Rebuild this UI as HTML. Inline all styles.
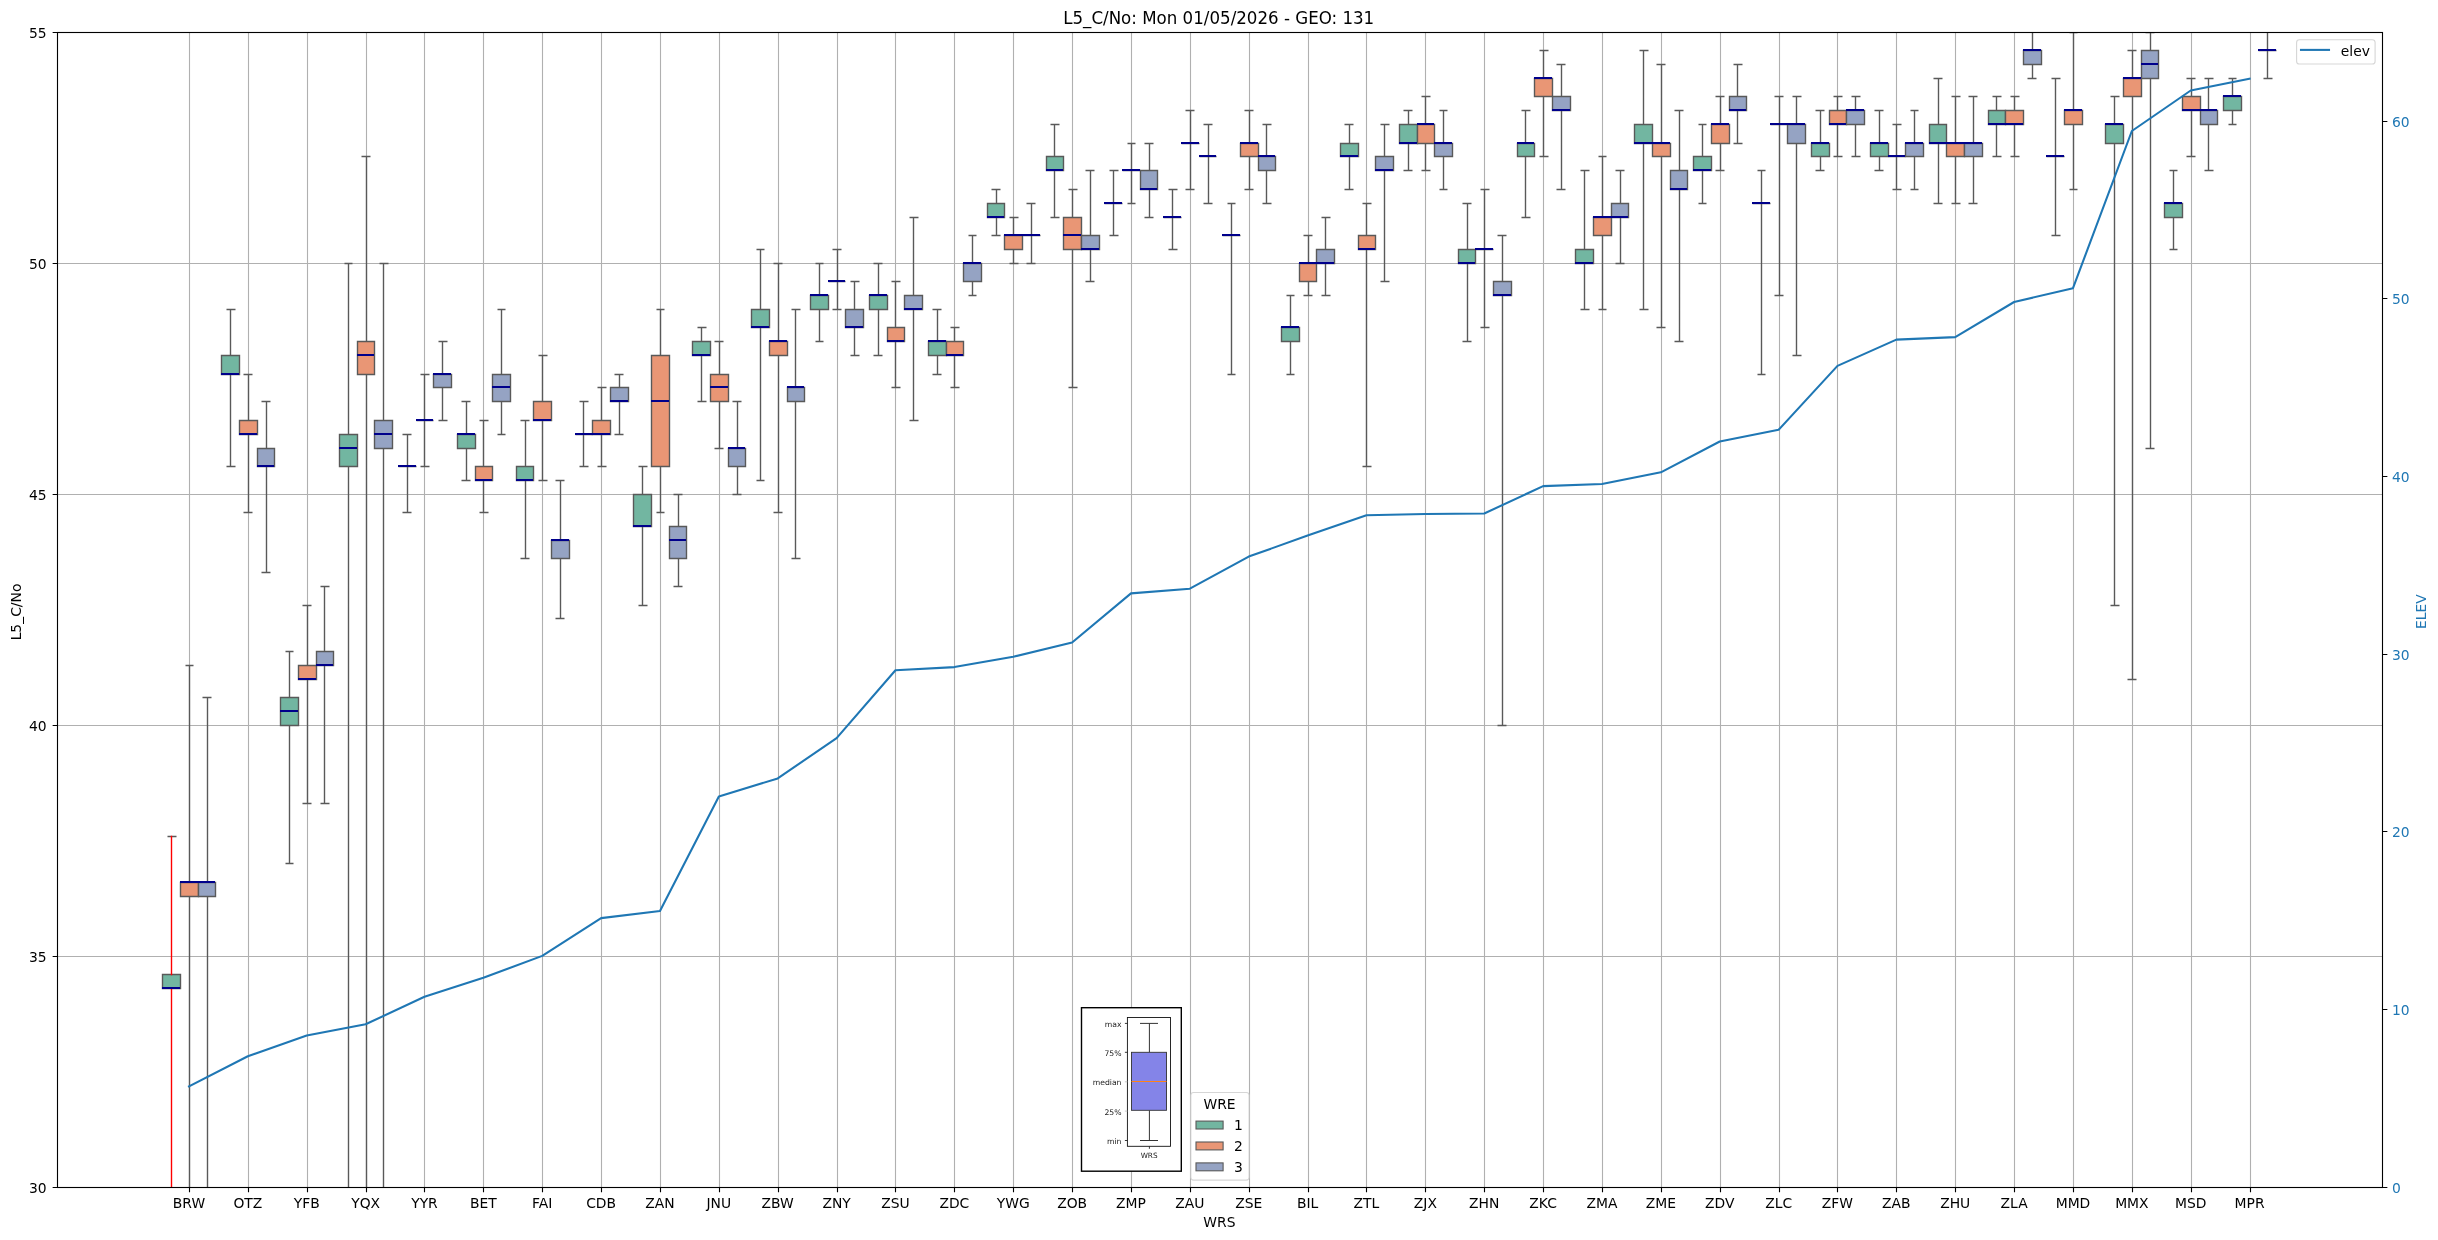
<!DOCTYPE html>
<html><head><meta charset="utf-8"><title>L5_C/No</title>
<style>html,body{margin:0;padding:0;background:#fff;overflow:hidden}svg{display:block;will-change:transform}text{font-family:"DejaVu Sans","Liberation Sans",sans-serif}</style></head><body>
<svg width="2438" height="1240" viewBox="0 0 2438 1240">
<defs><clipPath id="ax"><rect x="57" y="32" width="2325" height="1155"/></clipPath></defs>
<rect width="2438" height="1240" fill="#fff"/>
<path d="M189.5 32.5V1187.5M248.5 32.5V1187.5M307.5 32.5V1187.5M366.5 32.5V1187.5M424.5 32.5V1187.5M483.5 32.5V1187.5M542.5 32.5V1187.5M601.5 32.5V1187.5M660.5 32.5V1187.5M719.5 32.5V1187.5M778.5 32.5V1187.5M837.5 32.5V1187.5M895.5 32.5V1187.5M954.5 32.5V1187.5M1013.5 32.5V1187.5M1072.5 32.5V1187.5M1131.5 32.5V1187.5M1190.5 32.5V1187.5M1249.5 32.5V1187.5M1308.5 32.5V1187.5M1366.5 32.5V1187.5M1425.5 32.5V1187.5M1484.5 32.5V1187.5M1543.5 32.5V1187.5M1602.5 32.5V1187.5M1661.5 32.5V1187.5M1720.5 32.5V1187.5M1779.5 32.5V1187.5M1837.5 32.5V1187.5M1896.5 32.5V1187.5M1955.5 32.5V1187.5M2014.5 32.5V1187.5M2073.5 32.5V1187.5M2132.5 32.5V1187.5M2191.5 32.5V1187.5M2250.5 32.5V1187.5M57.5 956.5H2382.5M57.5 725.5H2382.5M57.5 494.5H2382.5M57.5 263.5H2382.5" stroke="#b0b0b0" stroke-width="1.11" fill="none"/>
<g clip-path="url(#ax)">
<path d="M162.5 974.5H180.5V988.5H162.5Z" fill="#72b6a1" stroke="#595959" stroke-width="1.39" stroke-linejoin="miter"/>
<path d="M180.5 882.5H198.5V896.5H180.5Z" fill="#e99675" stroke="#595959" stroke-width="1.39" stroke-linejoin="miter"/>
<path d="M198.5 882.5H215.5V896.5H198.5Z" fill="#95a3c3" stroke="#595959" stroke-width="1.39" stroke-linejoin="miter"/>
<path d="M221.5 355.5H239.5V374.5H221.5Z" fill="#72b6a1" stroke="#595959" stroke-width="1.39" stroke-linejoin="miter"/>
<path d="M239.5 420.5H257.5V434.5H239.5Z" fill="#e99675" stroke="#595959" stroke-width="1.39" stroke-linejoin="miter"/>
<path d="M257.5 448.5H274.5V466.5H257.5Z" fill="#95a3c3" stroke="#595959" stroke-width="1.39" stroke-linejoin="miter"/>
<path d="M280.5 697.5H298.5V725.5H280.5Z" fill="#72b6a1" stroke="#595959" stroke-width="1.39" stroke-linejoin="miter"/>
<path d="M298.5 665.5H316.5V679.5H298.5Z" fill="#e99675" stroke="#595959" stroke-width="1.39" stroke-linejoin="miter"/>
<path d="M316.5 651.5H333.5V665.5H316.5Z" fill="#95a3c3" stroke="#595959" stroke-width="1.39" stroke-linejoin="miter"/>
<path d="M339.5 434.5H357.5V466.5H339.5Z" fill="#72b6a1" stroke="#595959" stroke-width="1.39" stroke-linejoin="miter"/>
<path d="M357.5 341.5H374.5V374.5H357.5Z" fill="#e99675" stroke="#595959" stroke-width="1.39" stroke-linejoin="miter"/>
<path d="M374.5 420.5H392.5V448.5H374.5Z" fill="#95a3c3" stroke="#595959" stroke-width="1.39" stroke-linejoin="miter"/>
<path d="M398.5 466.5H416.5V466.5H398.5Z" fill="#72b6a1" stroke="#595959" stroke-width="1.39" stroke-linejoin="miter"/>
<path d="M416.5 420.5H433.5V420.5H416.5Z" fill="#e99675" stroke="#595959" stroke-width="1.39" stroke-linejoin="miter"/>
<path d="M433.5 374.5H451.5V387.5H433.5Z" fill="#95a3c3" stroke="#595959" stroke-width="1.39" stroke-linejoin="miter"/>
<path d="M457.5 434.5H475.5V448.5H457.5Z" fill="#72b6a1" stroke="#595959" stroke-width="1.39" stroke-linejoin="miter"/>
<path d="M475.5 466.5H492.5V480.5H475.5Z" fill="#e99675" stroke="#595959" stroke-width="1.39" stroke-linejoin="miter"/>
<path d="M492.5 374.5H510.5V401.5H492.5Z" fill="#95a3c3" stroke="#595959" stroke-width="1.39" stroke-linejoin="miter"/>
<path d="M516.5 466.5H533.5V480.5H516.5Z" fill="#72b6a1" stroke="#595959" stroke-width="1.39" stroke-linejoin="miter"/>
<path d="M533.5 401.5H551.5V420.5H533.5Z" fill="#e99675" stroke="#595959" stroke-width="1.39" stroke-linejoin="miter"/>
<path d="M551.5 540.5H569.5V558.5H551.5Z" fill="#95a3c3" stroke="#595959" stroke-width="1.39" stroke-linejoin="miter"/>
<path d="M575.5 434.5H592.5V434.5H575.5Z" fill="#72b6a1" stroke="#595959" stroke-width="1.39" stroke-linejoin="miter"/>
<path d="M592.5 420.5H610.5V434.5H592.5Z" fill="#e99675" stroke="#595959" stroke-width="1.39" stroke-linejoin="miter"/>
<path d="M610.5 387.5H628.5V401.5H610.5Z" fill="#95a3c3" stroke="#595959" stroke-width="1.39" stroke-linejoin="miter"/>
<path d="M633.5 494.5H651.5V526.5H633.5Z" fill="#72b6a1" stroke="#595959" stroke-width="1.39" stroke-linejoin="miter"/>
<path d="M651.5 355.5H669.5V466.5H651.5Z" fill="#e99675" stroke="#595959" stroke-width="1.39" stroke-linejoin="miter"/>
<path d="M669.5 526.5H686.5V558.5H669.5Z" fill="#95a3c3" stroke="#595959" stroke-width="1.39" stroke-linejoin="miter"/>
<path d="M692.5 341.5H710.5V355.5H692.5Z" fill="#72b6a1" stroke="#595959" stroke-width="1.39" stroke-linejoin="miter"/>
<path d="M710.5 374.5H728.5V401.5H710.5Z" fill="#e99675" stroke="#595959" stroke-width="1.39" stroke-linejoin="miter"/>
<path d="M728.5 448.5H745.5V466.5H728.5Z" fill="#95a3c3" stroke="#595959" stroke-width="1.39" stroke-linejoin="miter"/>
<path d="M751.5 309.5H769.5V327.5H751.5Z" fill="#72b6a1" stroke="#595959" stroke-width="1.39" stroke-linejoin="miter"/>
<path d="M769.5 341.5H787.5V355.5H769.5Z" fill="#e99675" stroke="#595959" stroke-width="1.39" stroke-linejoin="miter"/>
<path d="M787.5 387.5H804.5V401.5H787.5Z" fill="#95a3c3" stroke="#595959" stroke-width="1.39" stroke-linejoin="miter"/>
<path d="M810.5 295.5H828.5V309.5H810.5Z" fill="#72b6a1" stroke="#595959" stroke-width="1.39" stroke-linejoin="miter"/>
<path d="M828.5 281.5H845.5V281.5H828.5Z" fill="#e99675" stroke="#595959" stroke-width="1.39" stroke-linejoin="miter"/>
<path d="M845.5 309.5H863.5V327.5H845.5Z" fill="#95a3c3" stroke="#595959" stroke-width="1.39" stroke-linejoin="miter"/>
<path d="M869.5 295.5H887.5V309.5H869.5Z" fill="#72b6a1" stroke="#595959" stroke-width="1.39" stroke-linejoin="miter"/>
<path d="M887.5 327.5H904.5V341.5H887.5Z" fill="#e99675" stroke="#595959" stroke-width="1.39" stroke-linejoin="miter"/>
<path d="M904.5 295.5H922.5V309.5H904.5Z" fill="#95a3c3" stroke="#595959" stroke-width="1.39" stroke-linejoin="miter"/>
<path d="M928.5 341.5H946.5V355.5H928.5Z" fill="#72b6a1" stroke="#595959" stroke-width="1.39" stroke-linejoin="miter"/>
<path d="M946.5 341.5H963.5V355.5H946.5Z" fill="#e99675" stroke="#595959" stroke-width="1.39" stroke-linejoin="miter"/>
<path d="M963.5 263.5H981.5V281.5H963.5Z" fill="#95a3c3" stroke="#595959" stroke-width="1.39" stroke-linejoin="miter"/>
<path d="M987.5 203.5H1004.5V217.5H987.5Z" fill="#72b6a1" stroke="#595959" stroke-width="1.39" stroke-linejoin="miter"/>
<path d="M1004.5 235.5H1022.5V249.5H1004.5Z" fill="#e99675" stroke="#595959" stroke-width="1.39" stroke-linejoin="miter"/>
<path d="M1022.5 235.5H1040.5V235.5H1022.5Z" fill="#95a3c3" stroke="#595959" stroke-width="1.39" stroke-linejoin="miter"/>
<path d="M1046.5 156.5H1063.5V170.5H1046.5Z" fill="#72b6a1" stroke="#595959" stroke-width="1.39" stroke-linejoin="miter"/>
<path d="M1063.5 217.5H1081.5V249.5H1063.5Z" fill="#e99675" stroke="#595959" stroke-width="1.39" stroke-linejoin="miter"/>
<path d="M1081.5 235.5H1099.5V249.5H1081.5Z" fill="#95a3c3" stroke="#595959" stroke-width="1.39" stroke-linejoin="miter"/>
<path d="M1104.5 203.5H1122.5V203.5H1104.5Z" fill="#72b6a1" stroke="#595959" stroke-width="1.39" stroke-linejoin="miter"/>
<path d="M1122.5 170.5H1140.5V170.5H1122.5Z" fill="#e99675" stroke="#595959" stroke-width="1.39" stroke-linejoin="miter"/>
<path d="M1140.5 170.5H1157.5V189.5H1140.5Z" fill="#95a3c3" stroke="#595959" stroke-width="1.39" stroke-linejoin="miter"/>
<path d="M1163.5 217.5H1181.5V217.5H1163.5Z" fill="#72b6a1" stroke="#595959" stroke-width="1.39" stroke-linejoin="miter"/>
<path d="M1181.5 143.5H1199.5V143.5H1181.5Z" fill="#e99675" stroke="#595959" stroke-width="1.39" stroke-linejoin="miter"/>
<path d="M1199.5 156.5H1216.5V156.5H1199.5Z" fill="#95a3c3" stroke="#595959" stroke-width="1.39" stroke-linejoin="miter"/>
<path d="M1222.5 235.5H1240.5V235.5H1222.5Z" fill="#72b6a1" stroke="#595959" stroke-width="1.39" stroke-linejoin="miter"/>
<path d="M1240.5 143.5H1258.5V156.5H1240.5Z" fill="#e99675" stroke="#595959" stroke-width="1.39" stroke-linejoin="miter"/>
<path d="M1258.5 156.5H1275.5V170.5H1258.5Z" fill="#95a3c3" stroke="#595959" stroke-width="1.39" stroke-linejoin="miter"/>
<path d="M1281.5 327.5H1299.5V341.5H1281.5Z" fill="#72b6a1" stroke="#595959" stroke-width="1.39" stroke-linejoin="miter"/>
<path d="M1299.5 263.5H1316.5V281.5H1299.5Z" fill="#e99675" stroke="#595959" stroke-width="1.39" stroke-linejoin="miter"/>
<path d="M1316.5 249.5H1334.5V263.5H1316.5Z" fill="#95a3c3" stroke="#595959" stroke-width="1.39" stroke-linejoin="miter"/>
<path d="M1340.5 143.5H1358.5V156.5H1340.5Z" fill="#72b6a1" stroke="#595959" stroke-width="1.39" stroke-linejoin="miter"/>
<path d="M1358.5 235.5H1375.5V249.5H1358.5Z" fill="#e99675" stroke="#595959" stroke-width="1.39" stroke-linejoin="miter"/>
<path d="M1375.5 156.5H1393.5V170.5H1375.5Z" fill="#95a3c3" stroke="#595959" stroke-width="1.39" stroke-linejoin="miter"/>
<path d="M1399.5 124.5H1417.5V143.5H1399.5Z" fill="#72b6a1" stroke="#595959" stroke-width="1.39" stroke-linejoin="miter"/>
<path d="M1417.5 124.5H1434.5V143.5H1417.5Z" fill="#e99675" stroke="#595959" stroke-width="1.39" stroke-linejoin="miter"/>
<path d="M1434.5 143.5H1452.5V156.5H1434.5Z" fill="#95a3c3" stroke="#595959" stroke-width="1.39" stroke-linejoin="miter"/>
<path d="M1458.5 249.5H1475.5V263.5H1458.5Z" fill="#72b6a1" stroke="#595959" stroke-width="1.39" stroke-linejoin="miter"/>
<path d="M1475.5 249.5H1493.5V249.5H1475.5Z" fill="#e99675" stroke="#595959" stroke-width="1.39" stroke-linejoin="miter"/>
<path d="M1493.5 281.5H1511.5V295.5H1493.5Z" fill="#95a3c3" stroke="#595959" stroke-width="1.39" stroke-linejoin="miter"/>
<path d="M1517.5 143.5H1534.5V156.5H1517.5Z" fill="#72b6a1" stroke="#595959" stroke-width="1.39" stroke-linejoin="miter"/>
<path d="M1534.5 78.5H1552.5V96.5H1534.5Z" fill="#e99675" stroke="#595959" stroke-width="1.39" stroke-linejoin="miter"/>
<path d="M1552.5 96.5H1570.5V110.5H1552.5Z" fill="#95a3c3" stroke="#595959" stroke-width="1.39" stroke-linejoin="miter"/>
<path d="M1575.5 249.5H1593.5V263.5H1575.5Z" fill="#72b6a1" stroke="#595959" stroke-width="1.39" stroke-linejoin="miter"/>
<path d="M1593.5 217.5H1611.5V235.5H1593.5Z" fill="#e99675" stroke="#595959" stroke-width="1.39" stroke-linejoin="miter"/>
<path d="M1611.5 203.5H1628.5V217.5H1611.5Z" fill="#95a3c3" stroke="#595959" stroke-width="1.39" stroke-linejoin="miter"/>
<path d="M1634.5 124.5H1652.5V143.5H1634.5Z" fill="#72b6a1" stroke="#595959" stroke-width="1.39" stroke-linejoin="miter"/>
<path d="M1652.5 143.5H1670.5V156.5H1652.5Z" fill="#e99675" stroke="#595959" stroke-width="1.39" stroke-linejoin="miter"/>
<path d="M1670.5 170.5H1687.5V189.5H1670.5Z" fill="#95a3c3" stroke="#595959" stroke-width="1.39" stroke-linejoin="miter"/>
<path d="M1693.5 156.5H1711.5V170.5H1693.5Z" fill="#72b6a1" stroke="#595959" stroke-width="1.39" stroke-linejoin="miter"/>
<path d="M1711.5 124.5H1729.5V143.5H1711.5Z" fill="#e99675" stroke="#595959" stroke-width="1.39" stroke-linejoin="miter"/>
<path d="M1729.5 96.5H1746.5V110.5H1729.5Z" fill="#95a3c3" stroke="#595959" stroke-width="1.39" stroke-linejoin="miter"/>
<path d="M1752.5 203.5H1770.5V203.5H1752.5Z" fill="#72b6a1" stroke="#595959" stroke-width="1.39" stroke-linejoin="miter"/>
<path d="M1770.5 124.5H1787.5V124.5H1770.5Z" fill="#e99675" stroke="#595959" stroke-width="1.39" stroke-linejoin="miter"/>
<path d="M1787.5 124.5H1805.5V143.5H1787.5Z" fill="#95a3c3" stroke="#595959" stroke-width="1.39" stroke-linejoin="miter"/>
<path d="M1811.5 143.5H1829.5V156.5H1811.5Z" fill="#72b6a1" stroke="#595959" stroke-width="1.39" stroke-linejoin="miter"/>
<path d="M1829.5 110.5H1846.5V124.5H1829.5Z" fill="#e99675" stroke="#595959" stroke-width="1.39" stroke-linejoin="miter"/>
<path d="M1846.5 110.5H1864.5V124.5H1846.5Z" fill="#95a3c3" stroke="#595959" stroke-width="1.39" stroke-linejoin="miter"/>
<path d="M1870.5 143.5H1888.5V156.5H1870.5Z" fill="#72b6a1" stroke="#595959" stroke-width="1.39" stroke-linejoin="miter"/>
<path d="M1888.5 156.5H1905.5V156.5H1888.5Z" fill="#e99675" stroke="#595959" stroke-width="1.39" stroke-linejoin="miter"/>
<path d="M1905.5 143.5H1923.5V156.5H1905.5Z" fill="#95a3c3" stroke="#595959" stroke-width="1.39" stroke-linejoin="miter"/>
<path d="M1929.5 124.5H1946.5V143.5H1929.5Z" fill="#72b6a1" stroke="#595959" stroke-width="1.39" stroke-linejoin="miter"/>
<path d="M1946.5 143.5H1964.5V156.5H1946.5Z" fill="#e99675" stroke="#595959" stroke-width="1.39" stroke-linejoin="miter"/>
<path d="M1964.5 143.5H1982.5V156.5H1964.5Z" fill="#95a3c3" stroke="#595959" stroke-width="1.39" stroke-linejoin="miter"/>
<path d="M1988.5 110.5H2005.5V124.5H1988.5Z" fill="#72b6a1" stroke="#595959" stroke-width="1.39" stroke-linejoin="miter"/>
<path d="M2005.5 110.5H2023.5V124.5H2005.5Z" fill="#e99675" stroke="#595959" stroke-width="1.39" stroke-linejoin="miter"/>
<path d="M2023.5 50.5H2041.5V64.5H2023.5Z" fill="#95a3c3" stroke="#595959" stroke-width="1.39" stroke-linejoin="miter"/>
<path d="M2046.5 156.5H2064.5V156.5H2046.5Z" fill="#72b6a1" stroke="#595959" stroke-width="1.39" stroke-linejoin="miter"/>
<path d="M2064.5 110.5H2082.5V124.5H2064.5Z" fill="#e99675" stroke="#595959" stroke-width="1.39" stroke-linejoin="miter"/>
<path d="M2105.5 124.5H2123.5V143.5H2105.5Z" fill="#72b6a1" stroke="#595959" stroke-width="1.39" stroke-linejoin="miter"/>
<path d="M2123.5 78.5H2141.5V96.5H2123.5Z" fill="#e99675" stroke="#595959" stroke-width="1.39" stroke-linejoin="miter"/>
<path d="M2141.5 50.5H2158.5V78.5H2141.5Z" fill="#95a3c3" stroke="#595959" stroke-width="1.39" stroke-linejoin="miter"/>
<path d="M2164.5 203.5H2182.5V217.5H2164.5Z" fill="#72b6a1" stroke="#595959" stroke-width="1.39" stroke-linejoin="miter"/>
<path d="M2182.5 96.5H2200.5V110.5H2182.5Z" fill="#e99675" stroke="#595959" stroke-width="1.39" stroke-linejoin="miter"/>
<path d="M2200.5 110.5H2217.5V124.5H2200.5Z" fill="#95a3c3" stroke="#595959" stroke-width="1.39" stroke-linejoin="miter"/>
<path d="M2223.5 96.5H2241.5V110.5H2223.5Z" fill="#72b6a1" stroke="#595959" stroke-width="1.39" stroke-linejoin="miter"/>
<path d="M2258.5 50.5H2276.5V50.5H2258.5Z" fill="#95a3c3" stroke="#595959" stroke-width="1.39" stroke-linejoin="miter"/>
<path d="M167.5 836.5H176.5M167.5 1233.5H176.5M189.5 882.5V665.5M189.5 896.5V1233.5M185.5 665.5H193.5M185.5 1233.5H193.5M207.5 882.5V697.5M207.5 896.5V1233.5M202.5 697.5H211.5M202.5 1233.5H211.5M230.5 355.5V309.5M230.5 374.5V466.5M226.5 309.5H235.5M226.5 466.5H235.5M248.5 420.5V374.5M248.5 434.5V512.5M243.5 374.5H252.5M243.5 512.5H252.5M266.5 448.5V401.5M266.5 466.5V572.5M261.5 401.5H270.5M261.5 572.5H270.5M289.5 697.5V651.5M289.5 725.5V863.5M285.5 651.5H293.5M285.5 863.5H293.5M307.5 665.5V605.5M307.5 679.5V803.5M302.5 605.5H311.5M302.5 803.5H311.5M324.5 651.5V586.5M324.5 665.5V803.5M320.5 586.5H329.5M320.5 803.5H329.5M348.5 434.5V263.5M348.5 466.5V1233.5M344.5 263.5H352.5M344.5 1233.5H352.5M366.5 341.5V156.5M366.5 374.5V1233.5M361.5 156.5H370.5M361.5 1233.5H370.5M383.5 420.5V263.5M383.5 448.5V1233.5M379.5 263.5H388.5M379.5 1233.5H388.5M407.5 466.5V434.5M407.5 466.5V512.5M402.5 434.5H411.5M402.5 512.5H411.5M424.5 420.5V374.5M424.5 420.5V466.5M420.5 374.5H429.5M420.5 466.5H429.5M442.5 374.5V341.5M442.5 387.5V420.5M438.5 341.5H447.5M438.5 420.5H447.5M466.5 434.5V401.5M466.5 448.5V480.5M461.5 401.5H470.5M461.5 480.5H470.5M483.5 466.5V420.5M483.5 480.5V512.5M479.5 420.5H488.5M479.5 512.5H488.5M501.5 374.5V309.5M501.5 401.5V434.5M497.5 309.5H505.5M497.5 434.5H505.5M525.5 466.5V420.5M525.5 480.5V558.5M520.5 420.5H529.5M520.5 558.5H529.5M542.5 401.5V355.5M542.5 420.5V480.5M538.5 355.5H547.5M538.5 480.5H547.5M560.5 540.5V480.5M560.5 558.5V618.5M555.5 480.5H564.5M555.5 618.5H564.5M583.5 434.5V401.5M583.5 434.5V466.5M579.5 401.5H588.5M579.5 466.5H588.5M601.5 420.5V387.5M601.5 434.5V466.5M597.5 387.5H606.5M597.5 466.5H606.5M619.5 387.5V374.5M619.5 401.5V434.5M614.5 374.5H623.5M614.5 434.5H623.5M642.5 494.5V466.5M642.5 526.5V605.5M638.5 466.5H647.5M638.5 605.5H647.5M660.5 355.5V309.5M660.5 466.5V512.5M656.5 309.5H664.5M656.5 512.5H664.5M678.5 526.5V494.5M678.5 558.5V586.5M673.5 494.5H682.5M673.5 586.5H682.5M701.5 341.5V327.5M701.5 355.5V401.5M697.5 327.5H706.5M697.5 401.5H706.5M719.5 374.5V341.5M719.5 401.5V448.5M714.5 341.5H723.5M714.5 448.5H723.5M737.5 448.5V401.5M737.5 466.5V494.5M732.5 401.5H741.5M732.5 494.5H741.5M760.5 309.5V249.5M760.5 327.5V480.5M756.5 249.5H764.5M756.5 480.5H764.5M778.5 341.5V263.5M778.5 355.5V512.5M773.5 263.5H782.5M773.5 512.5H782.5M795.5 387.5V309.5M795.5 401.5V558.5M791.5 309.5H800.5M791.5 558.5H800.5M819.5 295.5V263.5M819.5 309.5V341.5M815.5 263.5H823.5M815.5 341.5H823.5M837.5 281.5V249.5M837.5 281.5V309.5M832.5 249.5H841.5M832.5 309.5H841.5M854.5 309.5V281.5M854.5 327.5V355.5M850.5 281.5H859.5M850.5 355.5H859.5M878.5 295.5V263.5M878.5 309.5V355.5M873.5 263.5H882.5M873.5 355.5H882.5M895.5 327.5V281.5M895.5 341.5V387.5M891.5 281.5H900.5M891.5 387.5H900.5M913.5 295.5V217.5M913.5 309.5V420.5M909.5 217.5H918.5M909.5 420.5H918.5M937.5 341.5V309.5M937.5 355.5V374.5M932.5 309.5H941.5M932.5 374.5H941.5M954.5 341.5V327.5M954.5 355.5V387.5M950.5 327.5H959.5M950.5 387.5H959.5M972.5 263.5V235.5M972.5 281.5V295.5M968.5 235.5H976.5M968.5 295.5H976.5M996.5 203.5V189.5M996.5 217.5V235.5M991.5 189.5H1000.5M991.5 235.5H1000.5M1013.5 235.5V217.5M1013.5 249.5V263.5M1009.5 217.5H1018.5M1009.5 263.5H1018.5M1031.5 235.5V203.5M1031.5 235.5V263.5M1026.5 203.5H1035.5M1026.5 263.5H1035.5M1054.5 156.5V124.5M1054.5 170.5V217.5M1050.5 124.5H1059.5M1050.5 217.5H1059.5M1072.5 217.5V189.5M1072.5 249.5V387.5M1068.5 189.5H1077.5M1068.5 387.5H1077.5M1090.5 235.5V170.5M1090.5 249.5V281.5M1085.5 170.5H1094.5M1085.5 281.5H1094.5M1113.5 203.5V170.5M1113.5 203.5V235.5M1109.5 170.5H1118.5M1109.5 235.5H1118.5M1131.5 170.5V143.5M1131.5 170.5V203.5M1127.5 143.5H1135.5M1127.5 203.5H1135.5M1149.5 170.5V143.5M1149.5 189.5V217.5M1144.5 143.5H1153.5M1144.5 217.5H1153.5M1172.5 217.5V189.5M1172.5 217.5V249.5M1168.5 189.5H1177.5M1168.5 249.5H1177.5M1190.5 143.5V110.5M1190.5 143.5V189.5M1185.5 110.5H1194.5M1185.5 189.5H1194.5M1208.5 156.5V124.5M1208.5 156.5V203.5M1203.5 124.5H1212.5M1203.5 203.5H1212.5M1231.5 235.5V203.5M1231.5 235.5V374.5M1227.5 203.5H1235.5M1227.5 374.5H1235.5M1249.5 143.5V110.5M1249.5 156.5V189.5M1244.5 110.5H1253.5M1244.5 189.5H1253.5M1266.5 156.5V124.5M1266.5 170.5V203.5M1262.5 124.5H1271.5M1262.5 203.5H1271.5M1290.5 327.5V295.5M1290.5 341.5V374.5M1286.5 295.5H1294.5M1286.5 374.5H1294.5M1308.5 263.5V235.5M1308.5 281.5V295.5M1303.5 235.5H1312.5M1303.5 295.5H1312.5M1325.5 249.5V217.5M1325.5 263.5V295.5M1321.5 217.5H1330.5M1321.5 295.5H1330.5M1349.5 143.5V124.5M1349.5 156.5V189.5M1344.5 124.5H1353.5M1344.5 189.5H1353.5M1366.5 235.5V203.5M1366.5 249.5V466.5M1362.5 203.5H1371.5M1362.5 466.5H1371.5M1384.5 156.5V124.5M1384.5 170.5V281.5M1380.5 124.5H1389.5M1380.5 281.5H1389.5M1408.5 124.5V110.5M1408.5 143.5V170.5M1403.5 110.5H1412.5M1403.5 170.5H1412.5M1425.5 124.5V96.5M1425.5 143.5V170.5M1421.5 96.5H1430.5M1421.5 170.5H1430.5M1443.5 143.5V110.5M1443.5 156.5V189.5M1439.5 110.5H1447.5M1439.5 189.5H1447.5M1467.5 249.5V203.5M1467.5 263.5V341.5M1462.5 203.5H1471.5M1462.5 341.5H1471.5M1484.5 249.5V189.5M1484.5 249.5V327.5M1480.5 189.5H1489.5M1480.5 327.5H1489.5M1502.5 281.5V235.5M1502.5 295.5V725.5M1497.5 235.5H1506.5M1497.5 725.5H1506.5M1525.5 143.5V110.5M1525.5 156.5V217.5M1521.5 110.5H1530.5M1521.5 217.5H1530.5M1543.5 78.5V50.5M1543.5 96.5V156.5M1539.5 50.5H1548.5M1539.5 156.5H1548.5M1561.5 96.5V64.5M1561.5 110.5V189.5M1556.5 64.5H1565.5M1556.5 189.5H1565.5M1584.5 249.5V170.5M1584.5 263.5V309.5M1580.5 170.5H1589.5M1580.5 309.5H1589.5M1602.5 217.5V156.5M1602.5 235.5V309.5M1598.5 156.5H1606.5M1598.5 309.5H1606.5M1620.5 203.5V170.5M1620.5 217.5V263.5M1615.5 170.5H1624.5M1615.5 263.5H1624.5M1643.5 124.5V50.5M1643.5 143.5V309.5M1639.5 50.5H1648.5M1639.5 309.5H1648.5M1661.5 143.5V64.5M1661.5 156.5V327.5M1656.5 64.5H1665.5M1656.5 327.5H1665.5M1679.5 170.5V110.5M1679.5 189.5V341.5M1674.5 110.5H1683.5M1674.5 341.5H1683.5M1702.5 156.5V124.5M1702.5 170.5V203.5M1698.5 124.5H1706.5M1698.5 203.5H1706.5M1720.5 124.5V96.5M1720.5 143.5V170.5M1715.5 96.5H1724.5M1715.5 170.5H1724.5M1737.5 96.5V64.5M1737.5 110.5V143.5M1733.5 64.5H1742.5M1733.5 143.5H1742.5M1761.5 203.5V170.5M1761.5 203.5V374.5M1757.5 170.5H1765.5M1757.5 374.5H1765.5M1779.5 124.5V96.5M1779.5 124.5V295.5M1774.5 96.5H1783.5M1774.5 295.5H1783.5M1796.5 124.5V96.5M1796.5 143.5V355.5M1792.5 96.5H1801.5M1792.5 355.5H1801.5M1820.5 143.5V110.5M1820.5 156.5V170.5M1815.5 110.5H1824.5M1815.5 170.5H1824.5M1837.5 110.5V96.5M1837.5 124.5V156.5M1833.5 96.5H1842.5M1833.5 156.5H1842.5M1855.5 110.5V96.5M1855.5 124.5V156.5M1851.5 96.5H1860.5M1851.5 156.5H1860.5M1879.5 143.5V110.5M1879.5 156.5V170.5M1874.5 110.5H1883.5M1874.5 170.5H1883.5M1896.5 156.5V124.5M1896.5 156.5V189.5M1892.5 124.5H1901.5M1892.5 189.5H1901.5M1914.5 143.5V110.5M1914.5 156.5V189.5M1910.5 110.5H1918.5M1910.5 189.5H1918.5M1938.5 124.5V78.5M1938.5 143.5V203.5M1933.5 78.5H1942.5M1933.5 203.5H1942.5M1955.5 143.5V96.5M1955.5 156.5V203.5M1951.5 96.5H1960.5M1951.5 203.5H1960.5M1973.5 143.5V96.5M1973.5 156.5V203.5M1968.5 96.5H1977.5M1968.5 203.5H1977.5M1996.5 110.5V96.5M1996.5 124.5V156.5M1992.5 96.5H2001.5M1992.5 156.5H2001.5M2014.5 110.5V96.5M2014.5 124.5V156.5M2010.5 96.5H2019.5M2010.5 156.5H2019.5M2032.5 50.5V-14.5M2032.5 64.5V78.5M2027.5 -14.5H2036.5M2027.5 78.5H2036.5M2055.5 156.5V78.5M2055.5 156.5V235.5M2051.5 78.5H2060.5M2051.5 235.5H2060.5M2073.5 110.5V32.5M2073.5 124.5V189.5M2069.5 32.5H2077.5M2069.5 189.5H2077.5M2114.5 124.5V96.5M2114.5 143.5V605.5M2110.5 96.5H2119.5M2110.5 605.5H2119.5M2132.5 78.5V50.5M2132.5 96.5V679.5M2127.5 50.5H2136.5M2127.5 679.5H2136.5M2150.5 50.5V32.5M2150.5 78.5V448.5M2145.5 32.5H2154.5M2145.5 448.5H2154.5M2173.5 203.5V170.5M2173.5 217.5V249.5M2169.5 170.5H2177.5M2169.5 249.5H2177.5M2191.5 96.5V78.5M2191.5 110.5V156.5M2186.5 78.5H2195.5M2186.5 156.5H2195.5M2208.5 110.5V78.5M2208.5 124.5V170.5M2204.5 78.5H2213.5M2204.5 170.5H2213.5M2232.5 96.5V78.5M2232.5 110.5V124.5M2228.5 78.5H2236.5M2228.5 124.5H2236.5M2267.5 50.5V-14.5M2267.5 50.5V78.5M2263.5 -14.5H2272.5M2263.5 78.5H2272.5" stroke="#595959" stroke-width="1.39" stroke-linecap="butt" fill="none"/>
<path d="M171.5 974.5V836.5M171.5 988.5V1233.5" stroke="#ff0000" stroke-width="1.39" stroke-linecap="square" fill="none"/>
<path d="M162 988H180M180 882H198M198 882H215M221 374H239M239 434H257M257 466H274M280 711H298M298 679H316M316 665H333M339 448H357M357 355H374M374 434H392M398 466H416M416 420H433M433 374H451M457 434H475M475 480H492M492 387H510M516 480H533M533 420H551M551 540H569M575 434H592M592 434H610M610 401H628M633 526H651M651 401H669M669 540H686M692 355H710M710 387H728M728 448H745M751 327H769M769 341H787M787 387H804M810 295H828M828 281H845M845 327H863M869 295H887M887 341H904M904 309H922M928 341H946M946 355H963M963 263H981M987 217H1004M1004 235H1022M1022 235H1040M1046 170H1063M1063 235H1081M1081 249H1099M1104 203H1122M1122 170H1140M1140 189H1157M1163 217H1181M1181 143H1199M1199 156H1216M1222 235H1240M1240 143H1258M1258 156H1275M1281 327H1299M1299 263H1316M1316 263H1334M1340 156H1358M1358 249H1375M1375 170H1393M1399 143H1417M1417 124H1434M1434 143H1452M1458 263H1475M1475 249H1493M1493 295H1511M1517 143H1534M1534 78H1552M1552 110H1570M1575 263H1593M1593 217H1611M1611 217H1628M1634 143H1652M1652 143H1670M1670 189H1687M1693 170H1711M1711 124H1729M1729 110H1746M1752 203H1770M1770 124H1787M1787 124H1805M1811 143H1829M1829 124H1846M1846 110H1864M1870 143H1888M1888 156H1905M1905 143H1923M1929 143H1946M1946 143H1964M1964 143H1982M1988 124H2005M2005 124H2023M2023 50H2041M2046 156H2064M2064 110H2082M2105 124H2123M2123 78H2141M2141 64H2158M2164 203H2182M2182 110H2200M2200 110H2217M2223 96H2241M2258 50H2276" stroke="#00008b" stroke-width="2.08" stroke-linecap="butt" fill="none"/>
</g>
<path d="M52.64 1187.5H57.5M52.64 956.5H57.5M52.64 725.5H57.5M52.64 494.5H57.5M52.64 263.5H57.5M52.64 32.5H57.5M189.5 1187.5V1192.36M248.5 1187.5V1192.36M307.5 1187.5V1192.36M366.5 1187.5V1192.36M424.5 1187.5V1192.36M483.5 1187.5V1192.36M542.5 1187.5V1192.36M601.5 1187.5V1192.36M660.5 1187.5V1192.36M719.5 1187.5V1192.36M778.5 1187.5V1192.36M837.5 1187.5V1192.36M895.5 1187.5V1192.36M954.5 1187.5V1192.36M1013.5 1187.5V1192.36M1072.5 1187.5V1192.36M1131.5 1187.5V1192.36M1190.5 1187.5V1192.36M1249.5 1187.5V1192.36M1308.5 1187.5V1192.36M1366.5 1187.5V1192.36M1425.5 1187.5V1192.36M1484.5 1187.5V1192.36M1543.5 1187.5V1192.36M1602.5 1187.5V1192.36M1661.5 1187.5V1192.36M1720.5 1187.5V1192.36M1779.5 1187.5V1192.36M1837.5 1187.5V1192.36M1896.5 1187.5V1192.36M1955.5 1187.5V1192.36M2014.5 1187.5V1192.36M2073.5 1187.5V1192.36M2132.5 1187.5V1192.36M2191.5 1187.5V1192.36M2250.5 1187.5V1192.36M2382.5 1187.5H2387.36M2382.5 1009.5H2387.36M2382.5 831.5H2387.36M2382.5 654.5H2387.36M2382.5 476.5H2387.36M2382.5 298.5H2387.36M2382.5 121.5H2387.36" stroke="#000" stroke-width="1.11" fill="none"/>
<g font-size="13.89px" fill="#000">
<text x="46.6" y="1193.1" text-anchor="end">30</text>
<text x="46.6" y="962.1" text-anchor="end">35</text>
<text x="46.6" y="731.1" text-anchor="end">40</text>
<text x="46.6" y="500.1" text-anchor="end">45</text>
<text x="46.6" y="269.1" text-anchor="end">50</text>
<text x="46.6" y="38.1" text-anchor="end">55</text>
<text x="188.98" y="1207.9" text-anchor="middle">BRW</text>
<text x="247.85" y="1207.9" text-anchor="middle">OTZ</text>
<text x="306.73" y="1207.9" text-anchor="middle">YFB</text>
<text x="365.61" y="1207.9" text-anchor="middle">YQX</text>
<text x="424.48" y="1207.9" text-anchor="middle">YYR</text>
<text x="483.36" y="1207.9" text-anchor="middle">BET</text>
<text x="542.23" y="1207.9" text-anchor="middle">FAI</text>
<text x="601.11" y="1207.9" text-anchor="middle">CDB</text>
<text x="659.98" y="1207.9" text-anchor="middle">ZAN</text>
<text x="718.86" y="1207.9" text-anchor="middle">JNU</text>
<text x="777.73" y="1207.9" text-anchor="middle">ZBW</text>
<text x="836.61" y="1207.9" text-anchor="middle">ZNY</text>
<text x="895.48" y="1207.9" text-anchor="middle">ZSU</text>
<text x="954.36" y="1207.9" text-anchor="middle">ZDC</text>
<text x="1013.23" y="1207.9" text-anchor="middle">YWG</text>
<text x="1072.11" y="1207.9" text-anchor="middle">ZOB</text>
<text x="1130.98" y="1207.9" text-anchor="middle">ZMP</text>
<text x="1189.86" y="1207.9" text-anchor="middle">ZAU</text>
<text x="1248.73" y="1207.9" text-anchor="middle">ZSE</text>
<text x="1307.61" y="1207.9" text-anchor="middle">BIL</text>
<text x="1366.48" y="1207.9" text-anchor="middle">ZTL</text>
<text x="1425.36" y="1207.9" text-anchor="middle">ZJX</text>
<text x="1484.23" y="1207.9" text-anchor="middle">ZHN</text>
<text x="1543.11" y="1207.9" text-anchor="middle">ZKC</text>
<text x="1601.98" y="1207.9" text-anchor="middle">ZMA</text>
<text x="1660.86" y="1207.9" text-anchor="middle">ZME</text>
<text x="1719.73" y="1207.9" text-anchor="middle">ZDV</text>
<text x="1778.61" y="1207.9" text-anchor="middle">ZLC</text>
<text x="1837.48" y="1207.9" text-anchor="middle">ZFW</text>
<text x="1896.36" y="1207.9" text-anchor="middle">ZAB</text>
<text x="1955.23" y="1207.9" text-anchor="middle">ZHU</text>
<text x="2014.11" y="1207.9" text-anchor="middle">ZLA</text>
<text x="2072.98" y="1207.9" text-anchor="middle">MMD</text>
<text x="2131.86" y="1207.9" text-anchor="middle">MMX</text>
<text x="2190.73" y="1207.9" text-anchor="middle">MSD</text>
<text x="2249.61" y="1207.9" text-anchor="middle">MPR</text>
</g>
<g font-size="13.89px" fill="#1f77b4">
<text x="2391.9" y="1193.1">0</text>
<text x="2391.9" y="1015.1">10</text>
<text x="2391.9" y="837.1">20</text>
<text x="2391.9" y="660.1">30</text>
<text x="2391.9" y="482.1">40</text>
<text x="2391.9" y="304.1">50</text>
<text x="2391.9" y="127.1">60</text>
</g>
<text x="1219.4" y="1226.8" font-size="13.89px" text-anchor="middle">WRS</text>
<text transform="translate(21.1 612) rotate(-90)" font-size="13.89px" text-anchor="middle">L5_C/No</text>
<text transform="translate(2426.2 611.7) rotate(-90)" font-size="13.89px" text-anchor="middle" fill="#1f77b4">ELEV</text>
<text transform="translate(1218.7 24.2) scale(1 1.075)" font-size="16.67px" text-anchor="middle">L5_C/No: Mon 01/05/2026 - GEO: 131</text>
<rect x="1190.8" y="1092.5" width="58.3" height="87.6" rx="2.8" fill="#fff" fill-opacity="0.8" stroke="#cccccc" stroke-opacity="0.8" stroke-width="1.11"/>
<text x="1219.5" y="1108.9" font-size="13.89px" text-anchor="middle">WRE</text>
<rect x="1196" y="1121.1" width="27.1" height="7.9" fill="#72b6a1" stroke="#595959" stroke-width="1.1"/>
<text x="1234.1" y="1129.8" font-size="13.89px">1</text>
<rect x="1196" y="1142" width="27.1" height="7.9" fill="#e99675" stroke="#595959" stroke-width="1.1"/>
<text x="1234.1" y="1150.7" font-size="13.89px">2</text>
<rect x="1196" y="1162.9" width="27.1" height="7.9" fill="#95a3c3" stroke="#595959" stroke-width="1.1"/>
<text x="1234.1" y="1171.6" font-size="13.89px">3</text>
<g>
<rect x="1081.5" y="1007.7" width="99.8" height="163.5" fill="#fff" stroke="#000" stroke-width="1.4"/>
<rect x="1127.4" y="1017.5" width="43.1" height="128.8" fill="none" stroke="#111" stroke-width="0.9"/>
<path d="M1149.4 1023.4V1052.3M1149.4 1110.3V1140.5M1140 1023.4H1158M1140 1140.5H1158" stroke="#333" stroke-width="1" fill="none"/>
<rect x="1131.5" y="1052.3" width="35" height="58" fill="#8484e8" stroke="#333" stroke-width="0.9"/>
<path d="M1131.5 1081.5H1166.5" stroke="#ff8317" stroke-width="1"/>
<path d="M1124.9 1023.4H1127.4M1124.9 1052.3H1127.4M1124.9 1140.5H1127.4M1149.4 1146.3V1148.8" stroke="#222" stroke-width="0.9"/>
<path d="M1124.9 1081.8H1127.4M1124.9 1111.1H1127.4" stroke="#bbb" stroke-width="0.8"/>
<g font-size="7.7px" fill="#1a1a1a" text-anchor="end">
<text x="1121.5" y="1026.8">max</text>
<text x="1121.5" y="1055.9">75%</text>
<text x="1121.5" y="1084.8">median</text>
<text x="1121.5" y="1115.0">25%</text>
<text x="1121.5" y="1143.8">min</text>
</g>
<text x="1149.1" y="1157.9" font-size="7.3px" fill="#1a1a1a" text-anchor="middle">WRS</text>
</g>
<polyline points="188.98,1086.4 247.85,1056.3 306.73,1035.6 365.61,1024.3 424.48,996.8 483.36,977.8 542.23,955.9 601.11,918.1 659.98,911 718.86,796.5 777.73,778.4 836.61,738.1 895.48,670.3 954.36,667.1 1013.23,656.8 1072.11,642.5 1130.98,593.4 1189.86,588.7 1248.73,556.6 1307.61,535.6 1366.48,515.2 1425.36,514 1484.23,513.5 1543.11,486.1 1601.98,484 1660.86,472.3 1719.73,441.5 1778.61,429.8 1837.48,365.9 1896.36,339.6 1955.23,337.1 2014.11,302 2072.98,288.2 2131.86,131 2190.73,90.5 2249.61,78.7" fill="none" stroke="#1f77b4" stroke-width="2.08" stroke-linejoin="round" stroke-linecap="square" clip-path="url(#ax)"/>
<rect x="57.5" y="32.5" width="2325" height="1155" fill="none" stroke="#000" stroke-width="1.11"/>
<rect x="2296.6" y="39.7" width="78.5" height="24.3" rx="2.8" fill="#fff" fill-opacity="0.8" stroke="#cccccc" stroke-opacity="0.8" stroke-width="1.11"/>
<path d="M2301 49.9H2329" stroke="#1f77b4" stroke-width="2.08" stroke-linecap="square"/>
<text x="2340.8" y="55.8" font-size="13.89px">elev</text>
</svg></body></html>
